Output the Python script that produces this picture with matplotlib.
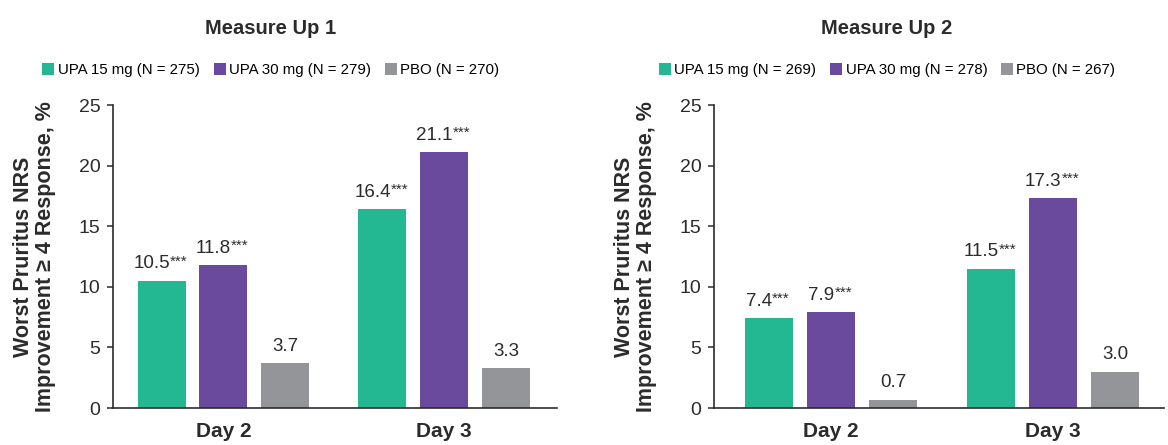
import matplotlib.pyplot as plt
from matplotlib.patches import Patch

plt.rcParams['font.family'] = ['Liberation Sans', 'DejaVu Sans']

# data
days = ['Day 2', 'Day 3']
titles = ['Measure Up 1', 'Measure Up 2']
arms = ['UPA 15 mg', 'UPA 30 mg', 'PBO']
n_up1 = [275, 279, 270]
n_up2 = [269, 278, 267]
up1_upa15 = [10.5, 16.4]
up1_upa30 = [11.8, 21.1]
up1_pbo = [3.7, 3.3]
up2_upa15 = [7.4, 11.5]
up2_upa30 = [7.9, 17.3]
up2_pbo = [0.7, 3.0]
stars_upa = ['***', '***']
stars_pbo = ['', '']

colors = ['#24b892', '#6a4a9c', '#949598']
ink = '#2b2b2b'

fig = plt.figure(figsize=(11.68, 4.45), dpi=100)
ax1 = fig.add_axes([0.0967, 0.0831, 0.3801, 0.6809])
ax2 = fig.add_axes([0.6113, 0.0831, 0.3853, 0.6809])

width = 0.217
offset = 0.28


def draw_panel(ax, series, stars, ns, title, xlim, title_x, label_x):
    x = range(len(days))
    for i, (vals, st) in enumerate(zip(series, stars)):
        xs = [xi + (i - 1) * offset for xi in x]
        ax.bar(xs, vals, width=width, color=colors[i], zorder=2)
        for xv, v, s in zip(xs, vals, st):
            shift = -7 if s else 0
            t = ax.annotate(f'{v:.1f}', xy=(xv, v), xytext=(shift, 6),
                            textcoords='offset points', ha='center', va='bottom',
                            fontsize=13.5, color=ink)
            if s:
                ax.annotate(s, xy=(1, 1.06), xycoords=t, ha='left', va='top',
                            fontsize=11, color=ink)
    ax.set_ylim(0, 25)
    ax.set_xlim(*xlim)
    ax.set_yticks([0, 5, 10, 15, 20, 25])
    ax.set_xticks(list(x))
    ax.set_xticklabels(days, fontsize=15, fontweight='bold', color=ink)
    ax.tick_params(axis='x', length=0, pad=10)
    ax.tick_params(axis='y', labelsize=14, labelcolor=ink, color=ink,
                   length=4, width=1.1, pad=5)
    for side in ['top', 'right']:
        ax.spines[side].set_visible(False)
    for side in ['left', 'bottom']:
        ax.spines[side].set_color(ink)
        ax.spines[side].set_linewidth(1.2)
    ax.set_ylabel('Worst Pruritus NRS\nImprovement \u2265 4 Response, %',
                  fontsize=15.5, fontweight='bold', color=ink, linespacing=1.1)
    ax.yaxis.set_label_coords(label_x, 0.5)

    fig.text(title_x, 1 - 28 / 445, title, ha='center', va='center',
             fontsize=14.5, fontweight='bold', color=ink)
    handles = [Patch(facecolor=c, edgecolor='none') for c in colors]
    labels = [f'{a} (N = {n})' for a, n in zip(arms, ns)]
    fig.legend(handles, labels, loc='center', ncol=3,
               bbox_to_anchor=(title_x, 1 - 70 / 445), frameon=False,
               handlelength=0.8, handleheight=0.8, handletextpad=0.25,
               columnspacing=0.9, borderaxespad=0, prop={'size': 10.8})


draw_panel(ax1, [up1_upa15, up1_upa30, up1_pbo],
           [stars_upa, stars_upa, stars_pbo], n_up1, titles[0],
           (-0.50, 1.51), 271 / 1168, -0.128)
draw_panel(ax2, [up2_upa15, up2_upa30, up2_pbo],
           [stars_upa, stars_upa, stars_pbo], n_up2, titles[1],
           (-0.527, 1.50), 887 / 1168, -0.126)

fig.savefig('out.png', dpi=100)
